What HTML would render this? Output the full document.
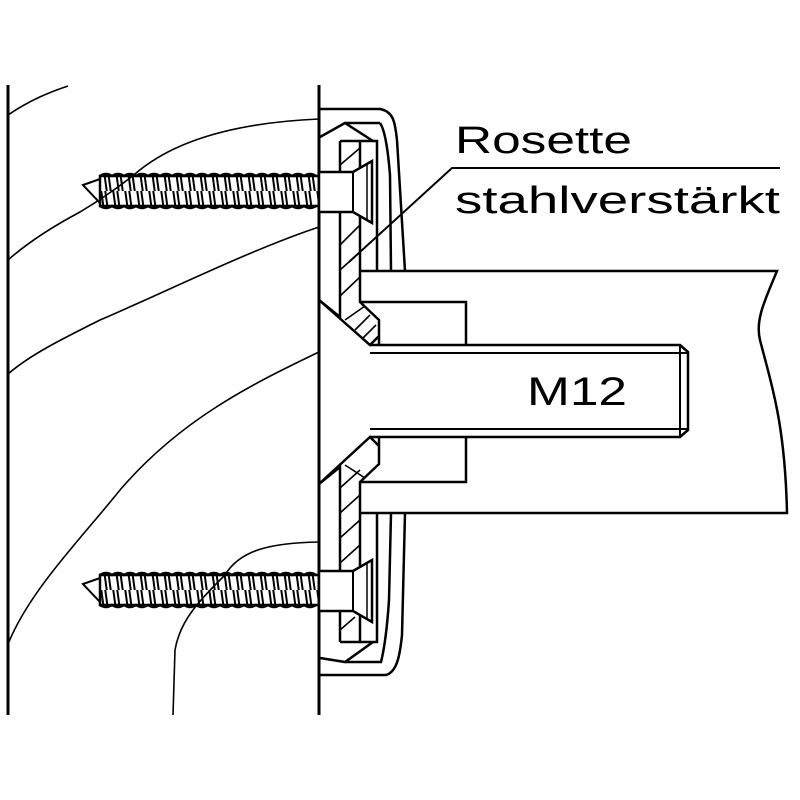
<!DOCTYPE html>
<html><head><meta charset="utf-8"><style>
html,body{margin:0;padding:0;background:#fff;}
svg{display:block;}
text{font-family:"Liberation Sans",sans-serif;fill:#000;}
</style></head><body>
<svg width="800" height="800" viewBox="0 0 800 800" xmlns="http://www.w3.org/2000/svg">
<defs>
<pattern id="thr" x="100" y="0" width="12" height="40" patternUnits="userSpaceOnUse">
<path d="M1,-2 L7,42 M5,-2 L11,42" stroke="#000" stroke-width="2" fill="none"/>
</pattern>
<g id="screw">
<path d="M83,-6 L100,-12 L100,12 Z" fill="#fff" stroke="#000" stroke-width="2"/>
<path d="M100,-15 L319,-15 L319,15 L100,15 Z" fill="url(#thr)" stroke="#000" stroke-width="2.5"/>
<path d="M100,-15 q6,-4 12,0 q6,-4 12,0 q6,-4 12,0 q6,-4 12,0 q6,-4 12,0 q6,-4 12,0 q6,-4 12,0 q6,-4 12,0 q6,-4 12,0 q6,-4 12,0 q6,-4 12,0 q6,-4 12,0 q6,-4 12,0 q6,-4 12,0 q6,-4 12,0 q6,-4 12,0 q6,-4 12,0 q6,-4 12,0" fill="none" stroke="#000" stroke-width="2.5"/>
<path d="M100,15 q6,4 12,0 q6,4 12,0 q6,4 12,0 q6,4 12,0 q6,4 12,0 q6,4 12,0 q6,4 12,0 q6,4 12,0 q6,4 12,0 q6,4 12,0 q6,4 12,0 q6,4 12,0 q6,4 12,0 q6,4 12,0 q6,4 12,0 q6,4 12,0 q6,4 12,0 q6,4 12,0" fill="none" stroke="#000" stroke-width="2.5"/>
<path d="M319,-19 L353,-19 L372,-30 L372,32 L353,21 L319,21 Z" fill="#fff" stroke="#000" stroke-width="2.5"/>
<line x1="353" y1="-19" x2="353" y2="21" stroke="#000" stroke-width="2"/>
<line x1="367" y1="-28" x2="367" y2="30" stroke="#000" stroke-width="1.5"/>
</g>
</defs>
<g fill="none" stroke="#000" stroke-width="1.6">
<path d="M8,115 C30,100 50,92 68,86"/>
<path d="M319,119 C250,122 180,135 135,174 C115,190 100,200 80,212 C50,228 25,245 8,260"/>
<path d="M319,227 C250,250 170,290 100,320 C60,340 30,355 8,374"/>
<path d="M319,352 C250,385 180,420 120,490 C80,540 30,590 8,644"/>
<path d="M319,542 C270,543 240,550 225,575 C200,600 180,620 175,650 L173,715"/>
</g>
<g stroke="#000" stroke-width="3" fill="none">
<line x1="8" y1="85" x2="8" y2="715"/>
<line x1="319" y1="85" x2="319" y2="715"/>
</g>
<!-- bar -->
<path d="M360,271 L777,271 C765,300 755,320 760,340 C770,380 785,420 787,513 L360,513" fill="#fff" stroke="#000" stroke-width="2.5"/>
<path d="M360,302 L466,302 L466,482 L360,482" fill="#fff" stroke="#000" stroke-width="2.5"/>
<!-- bolt -->
<path d="M370,345 L680,345 L688,352 L688,430 L680,437 L370,437" fill="#fff" stroke="#000" stroke-width="2.5"/>
<path d="M370,353 L688,353 M370,429 L688,429 M680,345 L680,437" stroke="#000" stroke-width="2" fill="none"/>
<text x="527" y="405" font-size="40" textLength="100" lengthAdjust="spacingAndGlyphs">M12</text>
<!-- rosette outer shells -->
<g fill="none" stroke="#000" stroke-width="2.5">
<path d="M319,109 L380,109 C395,112 395,125 397,140 L405,271"/>
<path d="M380,123 C385,130 388,150 390,175 L391,271"/>
<path d="M345,123 L380,123 M320,137 L345,123 L373,141"/>
<path d="M319,675 L386,675 C397,672 400,655 402,635 L405,513"/>
<path d="M345,662 L381,662 C384,650 387,630 389,600 L391,513"/>
<path d="M320,658 L345,662 L373,642"/>
<path d="M340,141 L377,141 L377,271 M340,141 L340,317 L319,300 L370,345 L379,336 L379,345 M360,141 L360,302 L379,320 L379,336"/>
<path d="M340,642 L377,642 L377,513 M340,642 L340,467 L319,484 L370,437 L379,446 L379,437 M360,642 L360,482 L379,464 L379,446"/>
</g>
<g stroke="#000" stroke-width="1.6">
<line x1="340" y1="165" x2="360" y2="148"/>
<line x1="340" y1="245" x2="360" y2="225"/>
<line x1="340" y1="270" x2="360" y2="252"/>
<line x1="340" y1="296" x2="360" y2="277"/>
<line x1="345" y1="320" x2="365" y2="306"/>
<line x1="355" y1="330" x2="370" y2="315"/>
<line x1="363" y1="338" x2="376" y2="325"/>
<line x1="340" y1="488" x2="360" y2="470"/>
<line x1="340" y1="513" x2="360" y2="495"/>
<line x1="340" y1="538" x2="360" y2="520"/>
<line x1="340" y1="563" x2="360" y2="545"/>
<line x1="340" y1="630" x2="355" y2="617"/>
<line x1="345" y1="465" x2="365" y2="478"/>
</g>
<use href="#screw" transform="translate(0,191)"/>
<use href="#screw" transform="translate(0,590)"/>
<path d="M349,262 L452,168 L780,168" fill="none" stroke="#000" stroke-width="2"/>
<text x="455" y="153" font-size="38" textLength="177" lengthAdjust="spacingAndGlyphs">Rosette</text>
<text x="455" y="213" font-size="38" textLength="325" lengthAdjust="spacingAndGlyphs">stahlverstärkt</text>
</svg>
</body></html>
